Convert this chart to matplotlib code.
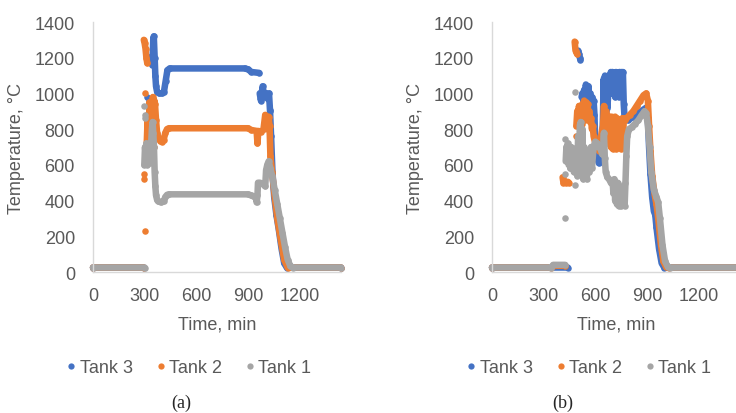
import numpy as np
import matplotlib.pyplot as plt
from matplotlib.lines import Line2D

nan = np.nan

# ---------------- panel (a) ----------------
a3_t = [0, 295, nan, 325, 335, 345, 350, 353, 358, 362, 366, 372, 385, 400, 412, 422, 432, 445,
        880, 900, 920, 965, nan, 968, 975, 985, 995, 1005, 1015, 1022, 1028, 1034, 1042, 1052,
        1065, 1080, 1095, 1110, 1125, 1440]
a3_T = [25, 25, nan, 1200, 1180, 1160, 1300, 1320, 1200, 1100, 1040, 1010, 1000, 1000, 1010,
        1070, 1130, 1140, 1140, 1135, 1120, 1115, nan, 1000, 960, 1040, 980, 1000, 970, 1000,
        900, 760, 560, 420, 320, 230, 130, 50, 25, 25]
a3_dots_t = [315, 325, 318, 1027]
a3_dots_T = [980, 960, 800, 910]

a2_t = [0, 295, nan, 295, 300, 305, 310, 315, nan, 305, 312, 318, 322, 328, 333, 338, 343, 348,
        352, 356, 360, 366, 372, 380, 390, 400, 410, 420, 430, 440, 900, 920, 950, 955, 960, 975,
        990, 1000, 1005, 1010, 1015, 1020, 1025, 1030, 1040, 1055, 1070, 1090, 1110, 1130, 1440]
a2_T = [25, 25, nan, 1300, 1280, 1250, 1200, 1170, nan, 640, 720, 880, 700, 950, 780, 900, 820,
        980, 700, 960, 940, 850, 780, 750, 735, 730, 740, 780, 800, 805, 805, 795, 790, 720, 790,
        785, 800, 880, 820, 860, 800, 870, 820, 650, 560, 420, 300, 180, 70, 25, 25]
a2_dots_t = [300, 300, 297, 299]
a2_dots_T = [1000, 230, 520, 550]

a1_t = [0, 300, nan, 298, 302, 306, 310, 314, 318, 322, 326, 330, 334, 338, 342, 346, 350, 354,
        358, 362, 366, 372, 380, 395, 410, 420, 430, 440, 900, 915, 930, 945, 950, 955, 958, 970,
        990, 1000, 1005, 1012, 1020, 1030, 1040, 1055, 1070, 1085, 1100, 1115, 1130, 1145, 1160,
        1440]
a1_T = [25, 25, nan, 600, 700, 650, 720, 600, 690, 640, 700, 610, 680, 720, 800, 840, 780, 700,
        560, 480, 430, 405, 395, 390, 395, 420, 432, 435, 435, 430, 425, 420, 390, 430, 500, 500,
        490, 480, 570, 600, 620, 580, 540, 460, 380, 300, 220, 140, 70, 35, 25, 25]
a1_dots_t = [298, 300, 303]
a1_dots_T = [930, 880, 860]

# ---------------- panel (b) ----------------
b3_t = [0, 440, nan, 500, 505, 510, 513, nan, 520, 525, 530, 535, 540, 545, 550, 555, 560, 565,
        570, 575, 580, 590, 595, 600, 610, 620, 630, 640, 645, 648, 652, 656, 660, 665, 670, 675,
        680, 690, 695, 700, 705, 710, 715, 720, 725, 730, 735, 740, 745, 750, 755, 760, 765, 770,
        790, 820, 850, 880, 895, 905, 912, 920, 930, 940, 948, 955, 970, 985, 1000, 1440]
b3_T = [25, 25, nan, 1240, 1220, 1200, 1190, nan, 980, 1000, 960, 1020, 980, 1050, 1000, 980,
        1040, 970, 1000, 960, 980, 960, 880, 700, 640, 610, 620, 700, 900, 1080, 880, 1100, 900,
        1060, 920, 1000, 1050, 1120, 1000, 1120, 1000, 1100, 980, 1120, 1000, 1110, 980, 1120,
        1000, 1120, 1000, 1120, 940, 860, 850, 870, 890, 910, 920, 860, 700, 550, 420, 340, 320,
        250, 130, 50, 25, 25]

b2_t = [0, 345, 355, 425, nan, 410, 415, 420, 430, 440, 445, nan, 480, 485, 490, 495, nan, 490,
        495, 500, 505, 510, 515, 520, 525, 530, 535, 540, 545, 550, 555, 560, 565, 570, 575, 580,
        585, 590, 600, 610, 620, 630, 640, 645, 650, 655, 660, 665, 670, 675, 680, 690, 695, 700,
        705, 710, 715, 720, 725, 730, 735, 740, 745, 750, 755, 760, 765, 770, 780, 800, 820, 840,
        860, 880, 895, 905, 912, 920, 930, 945, 955, 965, 980, 995, 1010, 1030, 1440]
b2_T = [25, 25, 35, 35, nan, 530, 500, 510, 500, 505, 500, nan, 1290, 1240, 1230, 1220, nan,
        820, 900, 860, 930, 850, 920, 830, 940, 900, 960, 850, 950, 880, 940, 870, 900, 840, 860,
        800, 820, 760, 720, 700, 680, 740, 800, 820, 930, 850, 900, 820, 880, 780, 860, 700, 870,
        690, 860, 700, 870, 690, 860, 700, 850, 700, 850, 690, 860, 700, 860, 850, 860, 880, 900,
        930, 960, 990, 1000, 960, 820, 680, 540, 430, 380, 300, 160, 60, 30, 25, 25]
b2_dots_t = [490]
b2_dots_T = [760]

b1_t = [0, 345, 355, 425, nan, 428, 432, 436, 440, 445, 450, 455, 460, 465, 470, 475, 480, 485,
        490, 495, 500, 505, 510, 515, 520, 525, 530, 535, 540, 545, 550, 555, 560, 565, 570, 575,
        580, 590, 600, 610, 620, 630, 640, 645, 650, 655, 660, 670, 680, 690, 700, 705, 710, 715,
        720, 725, 730, 735, 740, 750, 760, 765, 770, 775, 780, 785, 795, 810, 830, 850, 870, 885,
        895, 905, 915, 925, 940, 955, 965, 975, 990, 1005, 1020, 1035, 1440]
b1_T = [25, 25, 40, 40, nan, 620, 700, 640, 720, 600, 680, 580, 700, 620, 640, 560, 690, 600,
        660, 540, 760, 620, 820, 840, 560, 800, 520, 700, 540, 650, 520, 600, 640, 560, 600, 700,
        580, 700, 730, 720, 700, 690, 660, 700, 780, 640, 560, 530, 520, 500, 510, 440, 520, 400,
        470, 380, 500, 370, 460, 370, 480, 380, 370, 500, 650, 760, 800, 810, 830, 850, 880, 900,
        890, 820, 700, 560, 460, 420, 390, 300, 150, 60, 30, 25, 25]
b1_dots_t = [425, 425, 425, 480, 480]
b1_dots_T = [300, 550, 745, 1010, 490]

series_names = ['Tank 3', 'Tank 2', 'Tank 1']
colors = ['#4472C4', '#ED7D31', '#A5A5A5']
x_ticks = [0, 300, 600, 900, 1200]
y_ticks = [0, 200, 400, 600, 800, 1000, 1200, 1400]

panels = [
    ([(a3_t, a3_T, a3_dots_t, a3_dots_T), (a2_t, a2_T, a2_dots_t, a2_dots_T),
      (a1_t, a1_T, a1_dots_t, a1_dots_T)], '(a)'),
    ([(b3_t, b3_T, [], []), (b2_t, b2_T, b2_dots_t, b2_dots_T),
      (b1_t, b1_T, b1_dots_t, b1_dots_T)], '(b)'),
]

plt.rcParams['font.family'] = ['Liberation Sans', 'DejaVu Sans']
txt = '#595959'

W, H = 736, 414
fig = plt.figure(figsize=(W / 100, H / 100), dpi=100)

ax_lefts = [93, 492]
leg_x = [188, 588]
cap_x = [181, 563]

for k, (series, cap) in enumerate(panels):
    ax = fig.add_axes([ax_lefts[k] / W, 1 - 273 / H, 248 / W, 250 / H])
    for (t, T, dt, dT), c in zip(series, colors):
        ax.plot(t, T, '-o', color=c, lw=4.7, ms=4.7, mew=0,
                solid_capstyle='round', solid_joinstyle='round', clip_on=False)
        if len(dt):
            ax.plot(dt, dT, 'o', color=c, ms=4.7, mew=0, clip_on=False)
    ax.set_xlim(0, 1440)
    ax.set_ylim(0, 1400)
    ax.set_xticks(x_ticks)
    ax.set_yticks(y_ticks)
    ax.tick_params(length=0, labelsize=13, labelcolor=txt)
    ax.tick_params(axis='y', pad=13)
    ax.tick_params(axis='x', pad=11)
    for s in ['top', 'right']:
        ax.spines[s].set_visible(False)
    for s in ['left', 'bottom']:
        ax.spines[s].set_color('#D9D9D9')
        ax.spines[s].set_linewidth(1.0)
    ax.set_xlabel('Time, min', fontsize=13, color=txt, labelpad=8)
    ax.set_ylabel('Temperature, °C', fontsize=13, color=txt, labelpad=7)

    handles = [Line2D([], [], marker='o', ls='none', color=c, ms=4.5, mew=0) for c in colors]
    fig.legend(handles, series_names, loc='center', ncol=3, frameon=False,
               bbox_to_anchor=(leg_x[k] / W, 1 - 369 / H), fontsize=13,
               handletextpad=0.1, columnspacing=1.2, handlelength=0.7, labelcolor=txt)
    fig.text(cap_x[k] / W, 1 - 403 / H, cap, ha='center', va='center',
             family='Liberation Serif', fontsize=13, color='#262626')

fig.savefig('out.png', dpi=100)
